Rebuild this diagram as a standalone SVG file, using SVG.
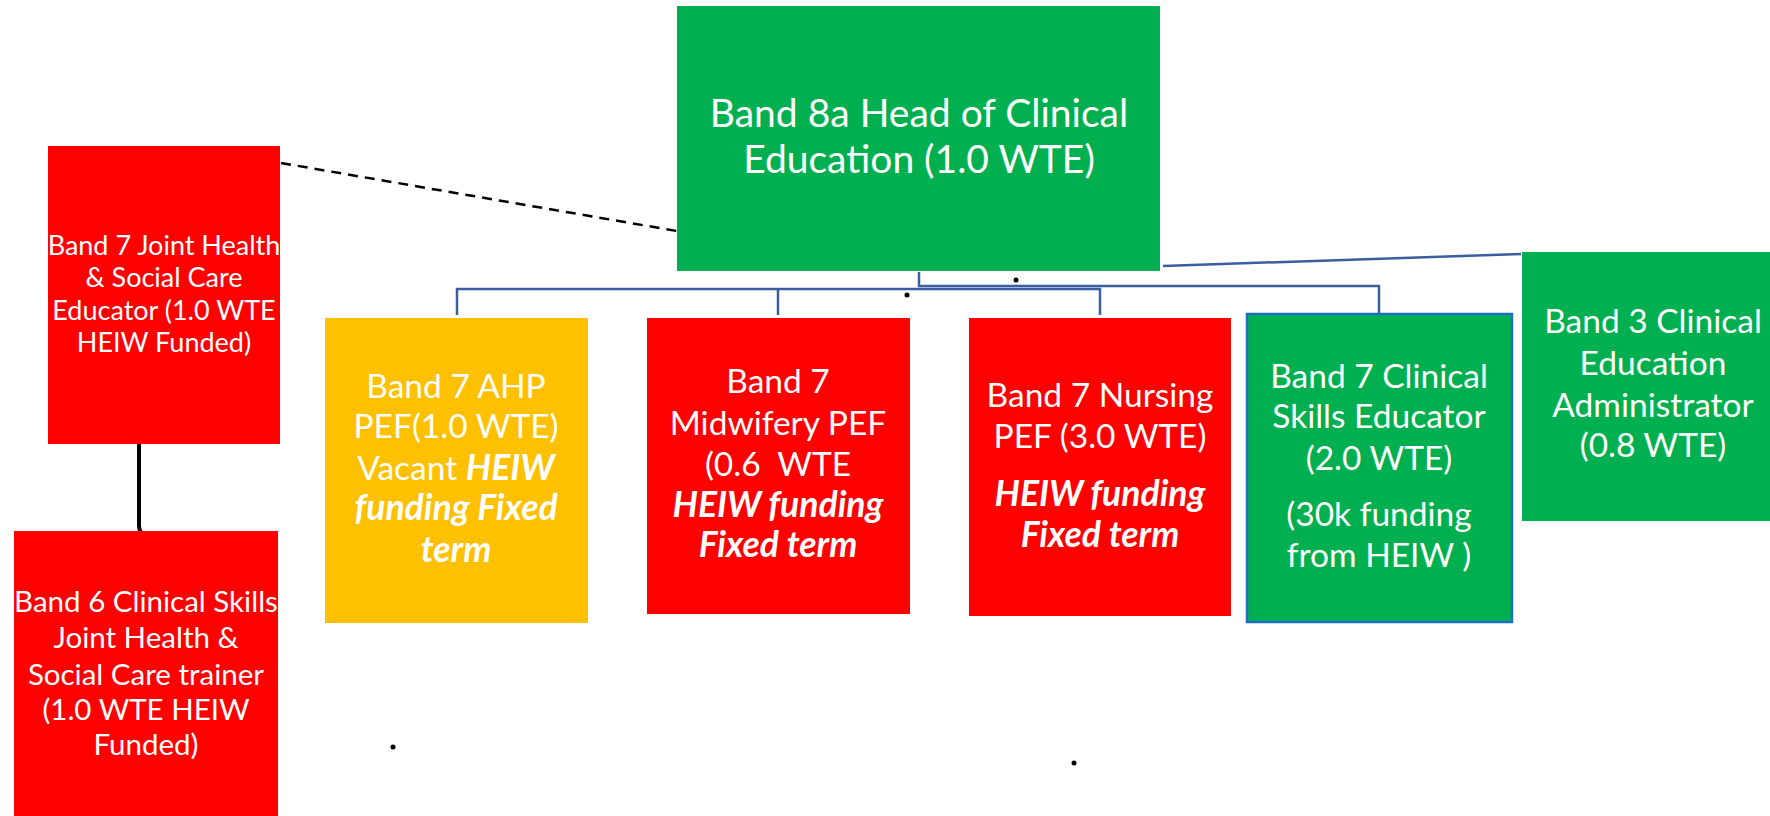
<svg xmlns="http://www.w3.org/2000/svg" width="1770" height="816" viewBox="0 0 1770 816">
<style>
text{font-family:Lato,"Liberation Sans",sans-serif;fill:#fff;text-anchor:middle;font-size:33.5px}
.bi{font-weight:bold;font-style:italic;font-size:35.5px}
.bus{fill:none;stroke:#3A5FA0;stroke-width:2.5}
</style>
<rect width="1770" height="816" fill="#fff"/>
<g id="connectors">
<line x1="281" y1="163" x2="677" y2="231" stroke="#000" stroke-width="2.5" stroke-dasharray="10,7"/>
<polyline class="bus" points="919,272 919,286 1379,286 1379,313"/>
<polyline class="bus" points="457,315 457,289 1100,289 1100,315"/>
<line class="bus" x1="778" y1="289" x2="778" y2="315"/>
<line class="bus" x1="1163" y1="266" x2="1521" y2="254"/>
<path d="M139,444 L139,526 Q139,534 148,536" fill="none" stroke="#000" stroke-width="4"/>
</g>
<g id="dots" fill="#000">
<circle cx="1016" cy="280" r="2.5"/>
<circle cx="907" cy="295" r="2.5"/>
<circle cx="1130" cy="460" r="2.5"/>
<circle cx="1074" cy="763" r="2.5"/>
<circle cx="393" cy="747" r="2.5"/>
</g>
<g id="head">
<rect x="677" y="6" width="483" height="265" fill="#00B050"/>
<text x="919" y="127" style="font-size:39px">Band 8a Head of Clinical</text>
<text x="919" y="173" style="font-size:39px">Education (1.0 WTE)</text>
</g>
<g id="joint7">
<rect x="48" y="146" width="232" height="298" fill="#FF0000"/>
<text x="164" y="255" style="font-size:27px">Band 7 Joint Health</text>
<text x="164" y="287" style="font-size:27px">&amp; Social Care</text>
<text x="164" y="320" style="font-size:27px">Educator (1.0 WTE</text>
<text x="164" y="352" style="font-size:27px">HEIW Funded)</text>
</g>
<g id="band6">
<rect x="14" y="531" width="264" height="290" fill="#FF0000"/>
<text x="146" y="612" style="font-size:29.5px">Band 6 Clinical Skills</text>
<text x="146" y="648" style="font-size:29.5px">Joint Health &amp;</text>
<text x="146" y="685" style="font-size:29.5px">Social Care trainer</text>
<text x="146" y="720" style="font-size:29.5px">(1.0 WTE HEIW</text>
<text x="146" y="755" style="font-size:29.5px">Funded)</text>
</g>
<g id="ahp">
<rect x="325" y="318" width="263" height="305" fill="#FFC000"/>
<text x="456" y="398">Band 7 AHP</text>
<text x="456" y="438">PEF(1.0 WTE)</text>
<text x="456" y="480">Vacant <tspan class="bi">HEIW</tspan></text>
<text x="456" y="520" class="bi">funding Fixed</text>
<text x="456" y="562" class="bi">term</text>
</g>
<g id="midwifery">
<rect x="647" y="318" width="263" height="296" fill="#FF0000"/>
<text x="778" y="393">Band 7</text>
<text x="778" y="435">Midwifery PEF</text>
<text x="778" y="476" xml:space="preserve">(0.6  WTE</text>
<text x="778" y="517" class="bi">HEIW funding</text>
<text x="778" y="557" class="bi">Fixed term</text>
</g>
<g id="nursing">
<rect x="969" y="318" width="262" height="298" fill="#FF0000"/>
<text x="1100" y="407">Band 7 Nursing</text>
<text x="1100" y="448">PEF (3.0 WTE)</text>
<text x="1100" y="506" class="bi">HEIW funding</text>
<text x="1100" y="547" class="bi">Fixed term</text>
</g>
<g id="skills">
<rect x="1247" y="314" width="265" height="308" fill="#00B050" stroke="#1F6FC0" stroke-width="2.5"/>
<text x="1379" y="388">Band 7 Clinical</text>
<text x="1379" y="428">Skills Educator</text>
<text x="1379" y="470">(2.0 WTE)</text>
<text x="1379" y="526">(30k funding</text>
<text x="1379" y="567">from HEIW )</text>
</g>
<g id="admin">
<rect x="1522" y="252" width="260" height="269" fill="#00B050"/>
<text x="1653" y="333">Band 3 Clinical</text>
<text x="1653" y="375">Education</text>
<text x="1653" y="417">Administrator</text>
<text x="1653" y="457">(0.8 WTE)</text>
</g>
</svg>
